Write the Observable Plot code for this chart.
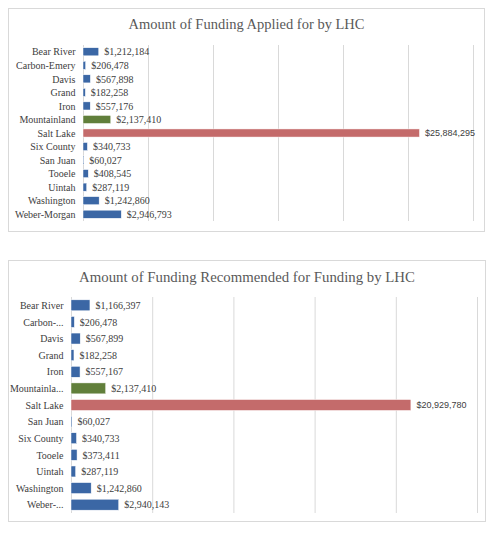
<!DOCTYPE html>
<html>
<head>
<meta charset="utf-8">
<script src="https://cdn.jsdelivr.net/npm/d3@7"></script>
<script src="https://cdn.jsdelivr.net/npm/@observablehq/plot@0.6"></script>
<style>
  body { margin: 0; background: #fff; }
  .box { position: absolute; left: 8px; border: 1px solid #d9d9d9; box-sizing: border-box; background: #fff; }
  .title { font-family: "Liberation Serif", serif; color: #595959; text-align: center; }
</style>
</head>
<body>
<div id="c1" class="box" style="top:8px;width:477px;height:224px;">
  <div class="title" style="font-size:14.5px;height:30px;line-height:30px;">Amount of Funding Applied for by LHC</div>
</div>
<div id="c2" class="box" style="top:260px;width:478px;height:262px;">
  <div class="title" style="font-size:14.8px;height:36px;line-height:32px;">Amount of Funding Recommended for Funding by LHC</div>
</div>
<script>
const appliedNames = ["Bear River", "Carbon-Emery", "Davis", "Grand", "Iron", "Mountainland", "Salt Lake",
  "Six County", "San Juan", "Tooele", "Uintah", "Washington", "Weber-Morgan"];
const appliedValues = [1212184, 206478, 567898, 182258, 557176, 2137410, 25884295,
  340733, 60027, 408545, 287119, 1242860, 2946793];
const appliedGrid = [0, 5e6, 10e6, 15e6, 20e6, 25e6, 30e6];

const recNames = ["Bear River", "Carbon-...", "Davis", "Grand", "Iron", "Mountainla...", "Salt Lake",
  "San Juan", "Six County", "Tooele", "Uintah", "Washington", "Weber-..."];
const recValues = [1166397, 206478, 567899, 182258, 557167, 2137410, 20929780,
  60027, 340733, 373411, 287119, 1242860, 2940143];
const recGrid = [0, 5e6, 10e6, 15e6, 20e6, 25e6];

const fmt = d3.format("$,");
const serif = "Liberation Serif, serif";
const colorOf = name => name === "Salt Lake" ? "#c46b6b" : name.startsWith("Mountainla") ? "#617f3b" : "#3b67a5";

function barChart(names, values, grid, {width, height, marginLeft, marginRight, marginTop, marginBottom, pad}) {
  const data = names.map((name, i) => ({name, value: values[i]}));
  const big = d => d.name === "Salt Lake";
  return Plot.plot({
    width, height, marginLeft, marginRight, marginTop, marginBottom,
    style: {fontFamily: serif, fontSize: "10px", color: "#404040"},
    x: {domain: [0, grid[grid.length - 1]], axis: null},
    y: {domain: names, paddingInner: pad, paddingOuter: pad / 2, round: false, axis: null},
    marks: [
      Plot.ruleX(grid, {stroke: "#d9d9d9", strokeWidth: 1}),
      Plot.axisY({tickSize: 0, tickPadding: 8, label: null, fontFamily: serif, fontSize: 10, fill: "#404040"}),
      Plot.barX(data, {y: "name", x: "value", fill: d => colorOf(d.name), stroke: "#fff", strokeWidth: 0.5}),
      Plot.text(data.filter(d => !big(d)), {y: "name", x: "value", text: d => fmt(d.value), textAnchor: "start", dx: 5, fill: "#404040", fontSize: 10, fontFamily: serif}),
      Plot.text(data.filter(big), {y: "name", x: "value", text: d => fmt(d.value), textAnchor: "start", dx: 5, fill: "#404040", fontSize: 9, fontFamily: "Liberation Sans, sans-serif"})
    ]
  });
}

document.getElementById("c1").append(barChart(appliedNames, appliedValues, appliedGrid,
  {width: 475, height: 192, marginLeft: 74, marginRight: 11, marginTop: 6, marginBottom: 10, pad: 0.4}));
document.getElementById("c2").append(barChart(recNames, recValues, recGrid,
  {width: 476, height: 224, marginLeft: 62, marginRight: 8, marginTop: 0, marginBottom: 8, pad: 0.34}));
</script>
</body>
</html>
